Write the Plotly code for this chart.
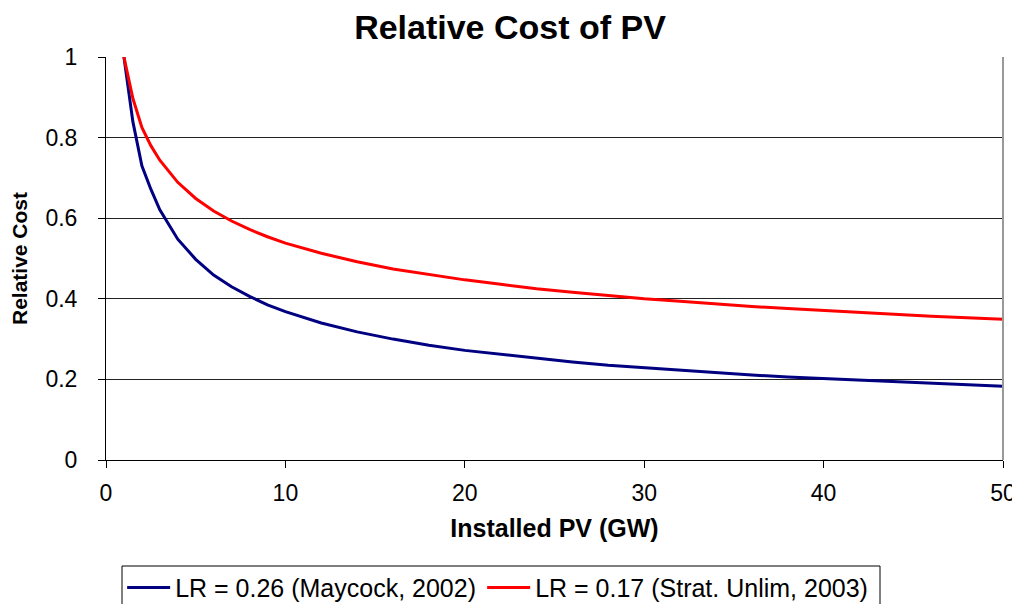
import plotly.graph_objects as go

# Installed PV (GW)
installed_gw = [1, 1.5, 2, 2.5, 3, 4, 5, 6, 7, 8, 9, 10, 12, 14, 16, 18, 20, 22, 24, 26,
                28, 30, 32, 34, 36, 38, 40, 42, 44, 46, 48, 50]

# Relative cost, LR = 0.26 (Maycock, 2002)
cost_maycock = [1.000, 0.839, 0.730, 0.672, 0.621, 0.548, 0.498, 0.459, 0.430, 0.406, 0.385,
                0.368, 0.340, 0.318, 0.300, 0.285, 0.272, 0.262, 0.252, 0.243, 0.235, 0.229,
                0.222, 0.217, 0.211, 0.206, 0.202, 0.198, 0.194, 0.190, 0.186, 0.183]

# Relative cost, LR = 0.17 (Strat. Unlim, 2003)
cost_strat = [1.000, 0.897, 0.825, 0.780, 0.744, 0.689, 0.649, 0.618, 0.593, 0.572, 0.554,
              0.538, 0.513, 0.492, 0.474, 0.460, 0.447, 0.436, 0.425, 0.416, 0.408, 0.400,
              0.394, 0.387, 0.381, 0.376, 0.371, 0.366, 0.361, 0.357, 0.353, 0.349]

series_names = ["LR = 0.26 (Maycock, 2002)", "LR = 0.17 (Strat. Unlim, 2003)"]
x_ticks = [0, 10, 20, 30, 40, 50]
y_ticks = [0, 0.2, 0.4, 0.6, 0.8, 1]
y_tick_text = ["0", "0.2", "0.4", "0.6", "0.8", "1"]

FONT = "Liberation Sans, Arial, sans-serif"

fig = go.Figure()
fig.add_trace(go.Scatter(x=installed_gw, y=cost_maycock, mode="lines", name=series_names[0],
                         line=dict(color="#000080", width=3), legend="legend"))
fig.add_trace(go.Scatter(x=installed_gw, y=cost_strat, mode="lines", name=series_names[1],
                         line=dict(color="#FF0000", width=3), legend="legend2"))

legend_style = dict(orientation="h", xanchor="left", y=-0.26, yanchor="top",
                    borderwidth=0, bgcolor="rgba(0,0,0,0)",
                    font=dict(family=FONT, size=25, color="black"),
                    itemwidth=43)

# the page has an 8px body margin, so the figure is 1012x596
fig.update_layout(
    width=1012, height=596,
    margin=dict(l=98, r=17, t=49, b=144, autoexpand=False),
    paper_bgcolor="white", plot_bgcolor="white",
    font=dict(family=FONT, size=22, color="black"),
    title=dict(text="<b>Relative Cost of PV</b>", x=(510 - 8) / 1012, xanchor="center",
               y=1 - 19.5 / 596, yanchor="middle", yref="container",
               font=dict(family=FONT, size=34, color="black")),
    showlegend=True,
    legend=dict(x=0.018, **legend_style),
    legend2=dict(x=0.018 + 360 / 897, **legend_style),
)

fig.update_xaxes(range=[0, 50], tickvals=x_ticks, showgrid=False, zeroline=False,
                 showline=True, linecolor="black", linewidth=1,
                 ticks="outside", ticklen=7, tickcolor="black", tickwidth=1,
                 ticklabelstandoff=5, automargin=False,
                 tickfont=dict(family=FONT, size=23, color="black"),
                 title=dict(text="<b>Installed PV (GW)</b>", standoff=14,
                            font=dict(family=FONT, size=25, color="black")))
fig.update_yaxes(range=[0, 1], tickvals=y_ticks, ticktext=y_tick_text,
                 showgrid=True, gridcolor="#222222", gridwidth=1, zeroline=False,
                 showline=True, linecolor="black", linewidth=1,
                 ticks="outside", ticklen=7, tickcolor="black", tickwidth=1,
                 ticklabelstandoff=16, automargin=False,
                 tickfont=dict(family=FONT, size=23, color="black"),
                 title=dict(text="<b>Relative Cost</b>", standoff=12,
                            font=dict(family=FONT, size=21, color="black")))

# plot-area border on the right (grey, as in the reference)
fig.add_shape(type="line", xref="paper", yref="paper", x0=1, x1=1, y0=0, y1=1,
              line=dict(color="#999999", width=2))
# single frame around both legend entries
fig.add_shape(type="rect", xref="paper", yref="paper",
              x0=(122 - 106) / 897, x1=(880 - 106) / 897,
              y0=(460 - 566) / 403, y1=(460 - 640) / 403,
              line=dict(color="black", width=1), fillcolor="rgba(0,0,0,0)")

fig.write_html("out.html")
